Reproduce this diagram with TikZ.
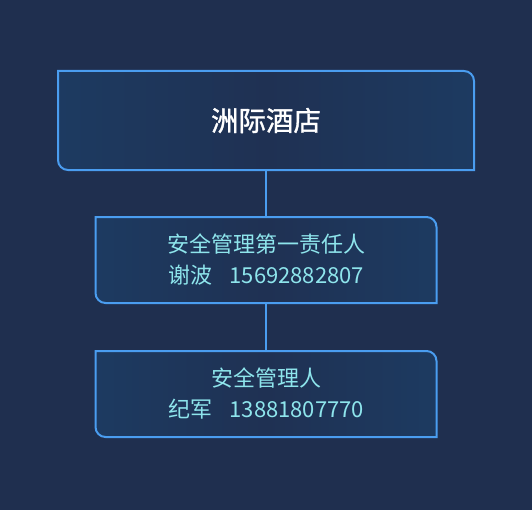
\documentclass[tikz,border=0pt]{standalone}
\usepackage{fontspec}
\newfontfamily\cjk{Noto Sans CJK SC}
\newfontfamily\cjktitle[FakeBold=1.2]{Noto Sans CJK SC}
\usetikzlibrary{positioning,backgrounds}
\definecolor{bgblue}{HTML}{1F2F4F}
\definecolor{cardedge}{HTML}{1B446F}
\definecolor{cardmid}{HTML}{1F3153}
\definecolor{cardline}{HTML}{4A9DF0}
\definecolor{cyantext}{HTML}{8EE5EC}
\pgfdeclarehorizontalshading{cardfill}{100bp}{color(0bp)=(cardedge); color(50bp)=(cardmid); color(100bp)=(cardedge)}
\tikzset{every picture/.style={line cap=round, line join=round}}
\tikzset{box/.style={rectangle, minimum width=255.75pt, minimum height=64.5pt,
  align=center, outer sep=0pt, inner sep=0pt, text=cyantext,
  font=\cjk\fontsize{16.5pt}{23.25pt}\selectfont}}
\tikzset{card/.style={draw=cardline, line width=1.5pt, shading=cardfill}}
\tikzset{link/.style={draw=cardline, line width=1.5pt}}
\newcommand\cardr{7.5pt}
% 右上・左下だけ丸いカード
\newcommand\cardshape[1]{%
  \path[card] (#1.north west) -- ([xshift=-\cardr]#1.north east)
    arc[start angle=90, end angle=0, radius=\cardr] -- (#1.south east)
    -- ([xshift=\cardr]#1.south west)
    arc[start angle=270, end angle=180, radius=\cardr] -- cycle;}

\begin{document}
\begin{tikzpicture}[x=0.75pt, y=-0.75pt]
  \useasboundingbox (0,0) rectangle (532,510);

  % 組織図
  \node[box, minimum width=312pt, minimum height=74.25pt, text=white,
        font=\cjktitle\fontsize{20.6pt}{24pt}\selectfont] (hotel) at (266,120.5) {洲际酒店};
  \node[box, below=35.25pt of hotel] (chief)
       {安全管理第一责任人\\谢波\hspace{0.8em}15692882807};
  \node[box, below=36pt of chief] (manager)
       {安全管理人\\纪军\hspace{0.8em}13881807770};

  % 背景とカード
  \begin{scope}[on background layer]
    \fill[bgblue] (0,0) rectangle (532,510);
    \cardshape{hotel}
    \cardshape{chief}
    \cardshape{manager}
  \end{scope}

  % 接続線
  \draw[link] (hotel) -- (chief);
  \draw[link] (chief) -- (manager);
\end{tikzpicture}
\end{document}
